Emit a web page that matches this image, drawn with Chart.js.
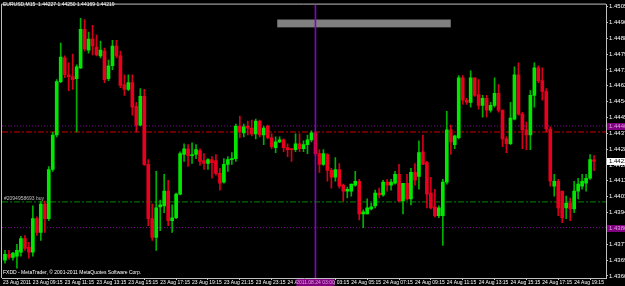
<!DOCTYPE html>
<html>
<head>
<meta charset="utf-8">
<script src="https://cdn.jsdelivr.net/npm/chart.js@4.4.1/dist/chart.umd.min.js"></script>
<style>
  html, body { margin: 0; padding: 0; background: #000; }
  #wrap { width: 625px; height: 286px; position: relative; }
</style>
</head>
<body>
<div id="wrap"><canvas id="grafico"></canvas></div>
<script>
// EURUSD M15, 23-24 Aug 2011, one value per bar
const opens = [
  1.43690, 1.43721, 1.43705, 1.43711, 1.43732, 1.43806, 1.43758, 1.43732, 1.43912, 1.43838,
  1.43991, 1.43912, 1.44176, 1.44361, 1.44647, 1.44774, 1.44684, 1.44674, 1.44663, 1.44721,
  1.44927, 1.44816, 1.44875, 1.44832, 1.44785, 1.44811, 1.44663, 1.44732, 1.44838, 1.44785,
  1.44631, 1.44605, 1.44642, 1.44515, 1.44414, 1.44568, 1.44203, 1.43912, 1.43811, 1.43975,
  1.43981, 1.44060, 1.43901, 1.43917, 1.44044, 1.44256, 1.44287, 1.44250, 1.44256, 1.44277,
  1.44224, 1.44208, 1.44229, 1.44224, 1.44155, 1.44108, 1.44203, 1.44229, 1.44234, 1.44409,
  1.44372, 1.44409, 1.44398, 1.44367, 1.44435, 1.44361, 1.44409, 1.44346, 1.44293, 1.44324,
  1.44335, 1.44293, 1.44287, 1.44282, 1.44314, 1.44287, 1.44309, 1.44335, 1.44372, 1.44261,
  1.44203, 1.44256, 1.44171, 1.44134, 1.44176, 1.44092, 1.44060, 1.44060, 1.44092, 1.44113,
  1.43938, 1.43938, 1.43965, 1.43981, 1.44049, 1.44039, 1.44108, 1.44092, 1.44102, 1.44150,
  1.44007, 1.44102, 1.44018, 1.44160, 1.44139, 1.44271, 1.44213, 1.44049, 1.43975, 1.43928,
  1.43928, 1.44108, 1.44388, 1.44309, 1.44346, 1.44668, 1.44547, 1.44536, 1.44668, 1.44578,
  1.44520, 1.44557, 1.44494, 1.44520, 1.44584, 1.44494, 1.44340, 1.44314, 1.44446, 1.44684,
  1.44473, 1.44388, 1.44361, 1.44573, 1.44721, 1.44652, 1.44594, 1.44393, 1.44086, 1.44113,
  1.44060, 1.43970, 1.43996, 1.43965, 1.44060, 1.44086, 1.44102, 1.44129, 1.44227
];
const highs = [
  1.43742, 1.43742, 1.43732, 1.43774, 1.43817, 1.43822, 1.43785, 1.43981, 1.43922, 1.44007,
  1.44007, 1.44192, 1.44377, 1.44658, 1.44853, 1.44785, 1.44748, 1.44795, 1.44737, 1.44986,
  1.44980, 1.44912, 1.44949, 1.44896, 1.44864, 1.44827, 1.44763, 1.44869, 1.44869, 1.44811,
  1.44684, 1.44684, 1.44684, 1.44536, 1.44610, 1.44605, 1.44229, 1.43991, 1.44166, 1.44012,
  1.44150, 1.44118, 1.43986, 1.44049, 1.44271, 1.44314, 1.44309, 1.44319, 1.44309, 1.44287,
  1.44261, 1.44234, 1.44245, 1.44256, 1.44182, 1.44234, 1.44245, 1.44266, 1.44420, 1.44462,
  1.44420, 1.44435, 1.44441, 1.44446, 1.44441, 1.44409, 1.44414, 1.44367, 1.44351, 1.44351,
  1.44340, 1.44314, 1.44287, 1.44367, 1.44367, 1.44330, 1.44361, 1.44383, 1.44377, 1.44282,
  1.44282, 1.44261, 1.44182, 1.44240, 1.44208, 1.44097, 1.44081, 1.44097, 1.44166, 1.44123,
  1.43959, 1.44018, 1.43996, 1.44065, 1.44076, 1.44118, 1.44123, 1.44123, 1.44166, 1.44203,
  1.44102, 1.44150, 1.44182, 1.44208, 1.44330, 1.44361, 1.44219, 1.44134, 1.44070, 1.43981,
  1.44123, 1.44488, 1.44414, 1.44361, 1.44679, 1.44679, 1.44557, 1.44705, 1.44668, 1.44658,
  1.44573, 1.44573, 1.44536, 1.44668, 1.44631, 1.44494, 1.44351, 1.44536, 1.44726, 1.44748,
  1.44483, 1.44430, 1.44599, 1.44748, 1.44732, 1.44721, 1.44610, 1.44404, 1.44150, 1.44123,
  1.44060, 1.44033, 1.44023, 1.44113, 1.44129, 1.44150, 1.44150, 1.44256, 1.44250
];
const lows = [
  1.43674, 1.43695, 1.43690, 1.43647, 1.43711, 1.43742, 1.43700, 1.43711, 1.43822, 1.43795,
  1.43838, 1.43901, 1.44166, 1.44351, 1.44642, 1.44668, 1.44599, 1.44605, 1.44377, 1.44716,
  1.44811, 1.44800, 1.44790, 1.44785, 1.44774, 1.44642, 1.44652, 1.44711, 1.44774, 1.44615,
  1.44573, 1.44599, 1.44467, 1.44377, 1.44409, 1.44197, 1.43875, 1.43795, 1.43742, 1.43848,
  1.43944, 1.43875, 1.43838, 1.43912, 1.44039, 1.44219, 1.44192, 1.44208, 1.44234, 1.44197,
  1.44176, 1.44176, 1.44129, 1.44145, 1.44065, 1.44102, 1.44166, 1.44203, 1.44219, 1.44346,
  1.44351, 1.44361, 1.44356, 1.44340, 1.44351, 1.44309, 1.44340, 1.44287, 1.44266, 1.44319,
  1.44271, 1.44245, 1.44219, 1.44271, 1.44271, 1.44271, 1.44261, 1.44324, 1.44250, 1.44160,
  1.44197, 1.44113, 1.44076, 1.44113, 1.44076, 1.44007, 1.44023, 1.44033, 1.44086, 1.43906,
  1.43864, 1.43938, 1.43959, 1.43970, 1.44023, 1.44033, 1.44060, 1.44065, 1.44097, 1.44002,
  1.43938, 1.44012, 1.43986, 1.44092, 1.44070, 1.44203, 1.43970, 1.43965, 1.43922, 1.43917,
  1.43769, 1.44097, 1.44256, 1.44287, 1.44340, 1.44525, 1.44525, 1.44510, 1.44568, 1.44499,
  1.44457, 1.44457, 1.44483, 1.44510, 1.44483, 1.44298, 1.44266, 1.44309, 1.44441, 1.44467,
  1.44287, 1.44282, 1.44282, 1.44510, 1.44642, 1.44547, 1.44377, 1.44086, 1.44033, 1.43928,
  1.43891, 1.43912, 1.43901, 1.43944, 1.44018, 1.44070, 1.44060, 1.44123, 1.44169
];
const closes = [
  1.43721, 1.43705, 1.43727, 1.43742, 1.43806, 1.43753, 1.43732, 1.43912, 1.43838, 1.43991,
  1.43912, 1.44176, 1.44361, 1.44647, 1.44779, 1.44684, 1.44674, 1.44658, 1.44726, 1.44927,
  1.44822, 1.44875, 1.44838, 1.44790, 1.44816, 1.44658, 1.44732, 1.44838, 1.44785, 1.44626,
  1.44605, 1.44642, 1.44510, 1.44414, 1.44568, 1.44203, 1.43912, 1.43811, 1.43970, 1.43986,
  1.44060, 1.43901, 1.43917, 1.44044, 1.44261, 1.44287, 1.44250, 1.44256, 1.44282, 1.44219,
  1.44208, 1.44229, 1.44213, 1.44155, 1.44102, 1.44203, 1.44229, 1.44234, 1.44409, 1.44377,
  1.44404, 1.44398, 1.44367, 1.44435, 1.44361, 1.44398, 1.44346, 1.44298, 1.44324, 1.44335,
  1.44293, 1.44282, 1.44282, 1.44314, 1.44287, 1.44309, 1.44335, 1.44372, 1.44261, 1.44203,
  1.44261, 1.44171, 1.44134, 1.44176, 1.44086, 1.44060, 1.44070, 1.44097, 1.44113, 1.43938,
  1.43949, 1.43970, 1.43975, 1.44049, 1.44039, 1.44108, 1.44092, 1.44108, 1.44150, 1.44007,
  1.44102, 1.44018, 1.44160, 1.44118, 1.44266, 1.44203, 1.44044, 1.43970, 1.43928, 1.43970,
  1.44108, 1.44388, 1.44324, 1.44356, 1.44668, 1.44547, 1.44536, 1.44668, 1.44573, 1.44520,
  1.44557, 1.44494, 1.44520, 1.44584, 1.44494, 1.44340, 1.44314, 1.44451, 1.44684, 1.44473,
  1.44388, 1.44361, 1.44573, 1.44721, 1.44652, 1.44594, 1.44393, 1.44113, 1.44113, 1.43970,
  1.43917, 1.43996, 1.43965, 1.44060, 1.44097, 1.44113, 1.44129, 1.44229, 1.44219
];

const yTickLabels = [
  "1.43605", "1.43690", "1.43775", "1.43860", "1.43945", "1.44030", "1.44115", "1.44200", "1.44285",
  "1.44370", "1.44455", "1.44540", "1.44625", "1.44710", "1.44795", "1.44880", "1.44965", "1.45050"
];
const xTickLabels = [
  "23 Aug 09:15", "23 Aug 11:15", "23 Aug 13:15", "23 Aug 15:15", "23 Aug 17:15", "23 Aug 19:15",
  "23 Aug 21:15", "23 Aug 23:15", "24 Aug 01:15", "24 Aug 03:15", "24 Aug 05:15", "24 Aug 07:15",
  "24 Aug 09:15", "24 Aug 11:15", "24 Aug 13:15", "24 Aug 15:15", "24 Aug 17:15", "24 Aug 19:15"
];

// chart objects
const redLevel = 1.44377;
const greenLevel = 1.44002;
const purpleLevels = [1.44409, 1.43864];
const orderLabel = "#2094958693 buy";
const vlineBar = 78;
const vlineLabel = "2011.08.24 03:00";
const rectObj = { x0: 68.4, x1: 112, p0: 1.44980, p1: 1.44938 };

// bar times, first bar 23 Aug 07:30, 15 min each
const barTimes = [];
for (let i = 0; i < closes.length; i++) {
  const m = 7 * 60 + 30 + i * 15;
  const day = 23 + Math.floor(m / 1440);
  const mm = m % 1440;
  const hh = String(Math.floor(mm / 60)).padStart(2, "0");
  const mi = String(mm % 60).padStart(2, "0");
  barTimes.push(day + " Aug " + hh + ":" + mi);
}

const xMin = -0.75, xMax = 151;
const tickVals = [-0.5].concat(xTickLabels.map((l) => barTimes.indexOf(l)));
const tickTexts = ["23 Aug 2011"].concat(xTickLabels);

const alcista = closes.map((c, i) => c >= opens[i]);
const colorCuerpo = alcista.map((u) => (u ? "#00e800" : "#e8001e"));
const colorMecha = alcista.map((u) => (u ? "#00b000" : "#d4001c"));

function linea(p, color, dash) {
  return {
    type: "line",
    data: [{ x: xMin, y: p }, { x: xMax, y: p }],
    borderColor: color,
    borderWidth: 1,
    borderDash: dash,
    pointRadius: 0,
    order: 5,
  };
}

const fuenteX = { family: "Liberation Sans", size: 5 };
const fuenteY = { family: "Liberation Sans", size: 6 };

const extras = {
  id: "extras",
  beforeDatasetsDraw(chart) {
    const { ctx, chartArea: a, scales } = chart;
    ctx.save();
    ctx.strokeStyle = "#c0c0c0";
    ctx.lineWidth = 1;
    ctx.beginPath();
    ctx.moveTo(a.left - 0.5, a.bottom);
    ctx.lineTo(a.left - 0.5, a.top - 0.5);
    ctx.lineTo(a.right, a.top - 0.5);
    ctx.stroke();
    // grey rectangle object
    const x0 = scales.x.getPixelForValue(rectObj.x0);
    const x1 = scales.x.getPixelForValue(rectObj.x1);
    const y0 = scales.y.getPixelForValue(rectObj.p0);
    const y1 = scales.y.getPixelForValue(rectObj.p1);
    ctx.fillStyle = "#808080";
    ctx.fillRect(x0, y0, x1 - x0, y1 - y0);
    ctx.restore();
  },
  afterDraw(chart) {
    const { ctx, chartArea: a, scales } = chart;
    ctx.save();
    ctx.font = "5px 'Liberation Sans'";
    ctx.textBaseline = "middle";
    ctx.fillStyle = "#ffffff";
    ctx.fillText(
      "EURUSD,M15  " + [opens, highs, lows, closes].map((s) => s[s.length - 1].toFixed(5)).join(" "),
      3, 5
    );
    ctx.fillText("FXDD - MetaTrader, \u00a9 2001-2011 MetaQuotes Software Corp.", 3, 273);
    ctx.fillStyle = "#c0c0c0";
    ctx.fillText(orderLabel, 4, scales.y.getPixelForValue(greenLevel) - 3);

    // price boxes on the right axis
    ctx.font = "6px 'Liberation Sans'";
    purpleLevels.forEach((p) => {
      const y = Math.round(scales.y.getPixelForValue(p));
      ctx.fillStyle = "#800080";
      ctx.fillRect(a.right + 1, y - 3, 20, 7);
      ctx.fillStyle = "#e0a0e0";
      ctx.fillText(p.toFixed(5), a.right + 3, y + 0.5);
    });
    const last = closes[closes.length - 1];
    const yl = Math.round(scales.y.getPixelForValue(last));
    ctx.fillStyle = "#ffffff";
    ctx.fillRect(a.right + 1, yl - 3, 20, 7);
    ctx.fillStyle = "#000000";
    ctx.fillText(last.toFixed(5), a.right + 3, yl + 0.5);

    // vertical line label on time axis
    ctx.font = "5px 'Liberation Sans'";
    const xv = scales.x.getPixelForValue(vlineBar);
    ctx.fillStyle = "#800080";
    ctx.fillRect(xv - 19, a.bottom + 1, 38, 7);
    ctx.fillStyle = "#e0a0e0";
    ctx.textAlign = "center";
    ctx.fillText(vlineLabel, xv, a.bottom + 4.5);
    ctx.restore();
  },
};

const ctx = document.getElementById("grafico").getContext("2d");
new Chart(ctx, {
  data: {
    datasets: [
      linea(redLevel, "#d00000", [6, 2, 2, 2]),
      linea(greenLevel, "#008800", [6, 2, 2, 2]),
      linea(purpleLevels[0], "#8000a0", [1, 2]),
      linea(purpleLevels[1], "#8000a0", [1, 2]),
      {
        type: "bar",
        data: lows.map((l, i) => ({ x: i, y: [l, highs[i]] })),
        backgroundColor: colorMecha,
        barThickness: 1,
        grouped: false,
        order: 3,
      },
      {
        type: "bar",
        data: opens.map((o, i) => ({ x: i, y: [Math.min(o, closes[i]), Math.max(o, closes[i])] })),
        backgroundColor: colorCuerpo,
        barThickness: 3,
        minBarLength: 1,
        grouped: false,
        order: 2,
      },
      {
        type: "line",
        data: [{ x: vlineBar, y: 1.43594 }, { x: vlineBar, y: 1.45060 }],
        borderColor: "#8a00c8",
        borderWidth: 1.6,
        pointRadius: 0,
        order: 1,
      },
    ],
  },
  options: {
    responsive: true,
    maintainAspectRatio: false,
    animation: false,
    events: [],
    layout: { padding: { top: 1, left: 2, right: 0, bottom: 0 } },
    plugins: { legend: { display: false }, tooltip: { enabled: false } },
    scales: {
      x: {
        type: "linear",
        min: xMin,
        max: xMax,
        offset: false,
        afterBuildTicks: (ax) => { ax.ticks = tickVals.map((v) => ({ value: v })); },
        afterFit: (ax) => { ax.height = 8; },
        grid: { drawOnChartArea: false, color: "#c0c0c0", tickLength: 2 },
        border: { color: "#c0c0c0" },
        ticks: {
          color: "#ffffff",
          font: fuenteX,
          padding: 0,
          align: "start",
          autoSkip: false,
          maxRotation: 0,
          minRotation: 0,
          callback: (v, i) => tickTexts[i],
        },
      },
      y: {
        position: "right",
        min: 1.43594,
        max: 1.45060,
        afterBuildTicks: (ax) => { ax.ticks = yTickLabels.map((t) => ({ value: parseFloat(t) })); },
        afterFit: (ax) => { ax.width = 19; },
        grid: { drawOnChartArea: false, color: "#c0c0c0", tickLength: 2 },
        border: { color: "#c0c0c0" },
        ticks: {
          color: "#ffffff",
          font: fuenteY,
          padding: 1,
          autoSkip: false,
          callback: (v, i) => yTickLabels[i],
        },
      },
    },
  },
  plugins: [extras],
});
</script>
</body>
</html>
